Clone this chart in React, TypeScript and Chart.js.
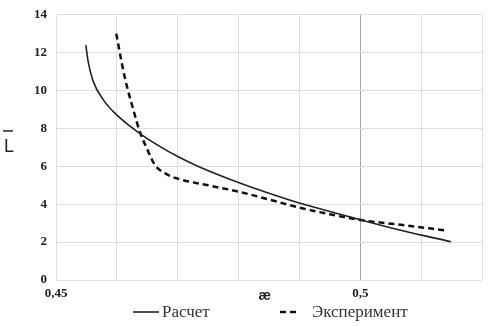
import { useEffect, useRef } from 'react';
import { Chart, registerables } from 'chart.js';

Chart.register(...registerables);

// ---- data ----
const calcX = [0.4549, 0.4553, 0.4561, 0.4578, 0.4602, 0.4635, 0.4676, 0.47, 0.4733, 0.4802, 0.485, 0.49, 0.4998, 0.507, 0.5149];
const calcY = [12.4, 11.5, 10.5, 9.5, 8.65, 7.8, 6.95, 6.52, 6.01, 5.12, 4.58, 4.06, 3.2, 2.6, 2.02];
const expX = [0.4599, 0.4613, 0.4627, 0.4638, 0.465, 0.4662, 0.4681, 0.47, 0.475, 0.4802, 0.485, 0.49, 0.495, 0.5, 0.507, 0.514];
const expY = [13.0, 10.7, 9.0, 7.8, 6.9, 6.1, 5.6, 5.35, 5.0, 4.65, 4.25, 3.82, 3.47, 3.17, 2.9, 2.62];
const seriesNames = ['Расчет', 'Эксперимент'];
const xLabeledTicks = [0.45, 0.5];
const xMin = 0.45;
const xMax = 0.52;
const xStep = 0.01;
const yMin = 0;
const yMax = 14;
const yStep = 2;
const xTitle = 'æ';
const yTitle = 'L';

const fmt = (v: number) => String(v).replace('.', ',');

const overlay = {
  id: 'overlay',
  afterDraw(chart: any) {
    const { ctx, chartArea } = chart;
    ctx.save();
    ctx.fillStyle = '#222';
    // x title
    ctx.font = 'bold 14px "Liberation Sans"';
    ctx.textAlign = 'center';
    ctx.textBaseline = 'middle';
    ctx.fillText(xTitle, chartArea.left + (chartArea.right - chartArea.left) * 0.49, chartArea.bottom + 16);
    // y title with overline
    ctx.font = '18px "Liberation Sans"';
    ctx.textAlign = 'left';
    ctx.textBaseline = 'alphabetic';
    const yMid = (chartArea.top + chartArea.bottom) / 2;
    ctx.fillText(yTitle, 4, yMid + 4.5);
    ctx.strokeStyle = '#222';
    ctx.lineWidth = 1.5;
    ctx.beginPath();
    ctx.moveTo(3, yMid - 16.5);
    ctx.lineTo(13, yMid - 16.5);
    ctx.stroke();
    // legend
    const ds = chart.data.datasets;
    const ly = chart.height - 14;
    ctx.font = '17px "Liberation Serif"';
    ctx.textBaseline = 'middle';
    const items = [
      { x: 133, len: 26, gap: 3 },
      { x: 280, len: 20, gap: 12 },
    ];
    items.forEach((it, i) => {
      const d = ds[i];
      ctx.strokeStyle = d.borderColor;
      ctx.lineWidth = d.borderWidth;
      ctx.setLineDash(d.borderDash || []);
      ctx.beginPath();
      ctx.moveTo(it.x, ly);
      ctx.lineTo(it.x + it.len, ly);
      ctx.stroke();
      ctx.setLineDash([]);
      ctx.fillStyle = '#333';
      ctx.fillText(d.label, it.x + it.len + it.gap, ly + 1);
    });
    ctx.restore();
  },
};

export default function App() {
  const ref = useRef<HTMLCanvasElement>(null);
  useEffect(() => {
    document.body.style.margin = '0';
    if (!ref.current) return;
    const chart = new Chart(ref.current, {
      type: 'line',
      data: {
        datasets: [
          {
            label: seriesNames[0],
            data: calcX.map((x, i) => ({ x, y: calcY[i] })),
            borderColor: '#222',
            borderWidth: 1.6,
            pointRadius: 0,
            cubicInterpolationMode: 'monotone',
            fill: false,
          },
          {
            label: seriesNames[1],
            data: expX.map((x, i) => ({ x, y: expY[i] })),
            borderColor: '#111',
            borderWidth: 2.5,
            borderDash: [6, 4],
            pointRadius: 0,
            cubicInterpolationMode: 'monotone',
            fill: false,
          },
        ],
      },
      options: {
        animation: false,
        responsive: false,
        layout: { padding: { top: 6, right: 9, left: 0, bottom: 0 } },
        plugins: { legend: { display: false }, tooltip: { enabled: false } },
        scales: {
          x: {
            type: 'linear',
            min: xMin,
            max: xMax,
            afterFit: (s: any) => { s.height = 46; },
            border: { display: false },
            grid: {
              drawTicks: false,
              color: (c: any) => (c.tick && Math.abs(c.tick.value - 0.5) < 1e-6 ? '#a6a6a6' : '#dedede'),
              lineWidth: 1,
            },
            ticks: {
              stepSize: xStep,
              autoSkip: false,
              maxRotation: 0,
              padding: 7,
              color: '#222',
              font: { family: '"Liberation Serif"', size: 13, weight: 'bold', lineHeight: 1 },
              callback: (v: any) => {
                const n = Number(v);
                return xLabeledTicks.some((t) => Math.abs(t - n) < 1e-6) ? fmt(Math.round(n * 100) / 100) : '';
              },
            },
          },
          y: {
            min: yMin,
            max: yMax,
            afterFit: (s: any) => { s.width = 56; },
            border: { display: false },
            grid: { drawTicks: false, color: '#dedede', lineWidth: 1 },
            ticks: {
              stepSize: yStep,
              padding: 9,
              color: '#222',
              font: { family: '"Liberation Serif"', size: 13, weight: 'bold', lineHeight: 0.9 },
            },
          },
        },
      },
      plugins: [overlay],
    } as any);
    return () => chart.destroy();
  }, []);
  return (
    <div style={{ width: 491, height: 326 }}>
      <canvas ref={ref} width={491} height={326} />
    </div>
  );
}
